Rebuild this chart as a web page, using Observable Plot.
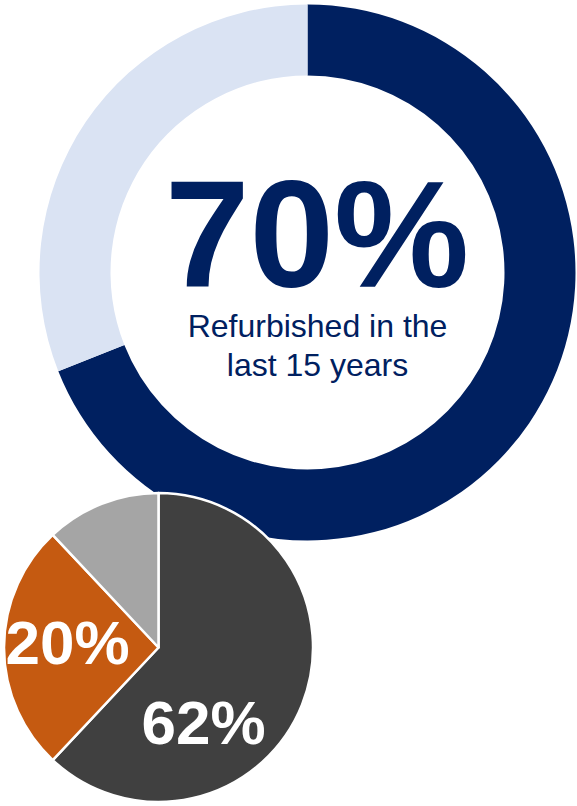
<!DOCTYPE html>
<html>
<head>
<meta charset="utf-8">
<script src="https://cdn.jsdelivr.net/npm/d3@7"></script>
<script src="https://cdn.jsdelivr.net/npm/@observablehq/plot@0.6"></script>
<style>
  html, body { margin: 0; padding: 0; background: #ffffff; }
  #chart { width: 577px; height: 806px; overflow: hidden; }
</style>
</head>
<body>
<div id="chart"></div>
<script>
// ---- Data ----
const donutCategories = ["Refurbished in the last 15 years", "Not refurbished"];
const donutValues = [69, 31];
const donutHeadline = "70%";
const donutSubtitle = "Refurbished in the\nlast 15 years";

const pieCategories = ["Share A", "Share B", "Share C"];
const pieValues = [62, 26, 12];
const pieLabels = ["62%", "20%", ""];

// ---- Styles / layout ----
const donutColors = ["#002060", "#DAE3F3"];
const pieColors = ["#404040", "#C55A11", "#A5A5A5"];
const W = 577, H = 806;
const donutGeom = {cx: 307.5, cy: 272.5, r0: 197, r1: 268};
const pieGeom = {cx: 158.5, cy: 647.5, r: 154.5};
const pieLabelPos = [{x: 203, y: 743}, {x: 67, y: 663}, null];

const donutData = donutCategories.map((c, i) => ({category: c, value: donutValues[i], color: donutColors[i]}));
const pieData = pieCategories.map((c, i) => ({category: c, value: pieValues[i], label: pieLabels[i], color: pieColors[i], pos: pieLabelPos[i]}));

function donutMark(index, scales) {
  const arcs = d3.pie().sort(null).value(d => d.value)(donutData);
  const arc = d3.arc().innerRadius(donutGeom.r0).outerRadius(donutGeom.r1);
  const g = d3.create("svg:g")
    .attr("transform", `translate(${scales.x(donutGeom.cx)},${scales.y(donutGeom.cy)})`);
  g.selectAll("path").data(arcs).join("path")
    .attr("d", arc)
    .attr("fill", d => d.data.color);
  return g.node();
}

function pieMark(index, scales) {
  const arcs = d3.pie().sort(null).value(d => d.value)(pieData);
  const arc = d3.arc().innerRadius(0).outerRadius(pieGeom.r);
  const g = d3.create("svg:g")
    .attr("transform", `translate(${scales.x(pieGeom.cx)},${scales.y(pieGeom.cy)})`);
  g.selectAll("path").data(arcs).join("path")
    .attr("d", arc)
    .attr("fill", d => d.data.color)
    .attr("stroke", "#ffffff")
    .attr("stroke-width", 2.5)
    .attr("stroke-linejoin", "round");
  return g.node();
}

const labelled = pieData.filter(d => d.label);

const chart = Plot.plot({
  width: W,
  height: H,
  margin: 0,
  x: {domain: [0, W], range: [0, W], axis: null},
  y: {domain: [0, H], range: [0, H], axis: null},
  style: {background: "#ffffff", fontFamily: "'Liberation Sans', Arial, sans-serif", overflow: "visible"},
  marks: [
    donutMark,
    Plot.text([donutHeadline], {
      x: () => 316.5, y: () => 286, text: d => d,
      fontSize: 152, fontWeight: "bold", fill: donutColors[0],
      textAnchor: "middle", lineAnchor: "bottom"
    }),
    Plot.text([donutSubtitle], {
      x: () => 317, y: () => 375, text: d => d,
      fontSize: 32, fill: donutColors[0], lineHeight: 1.19,
      textAnchor: "middle", lineAnchor: "bottom"
    }),
    pieMark,
    Plot.text(labelled, {
      x: d => d.pos.x, y: d => d.pos.y, text: "label",
      fontSize: 62, fontWeight: "bold", fill: "#ffffff",
      textAnchor: "middle", lineAnchor: "bottom"
    })
  ]
});

document.getElementById("chart").appendChild(chart);
</script>
</body>
</html>
